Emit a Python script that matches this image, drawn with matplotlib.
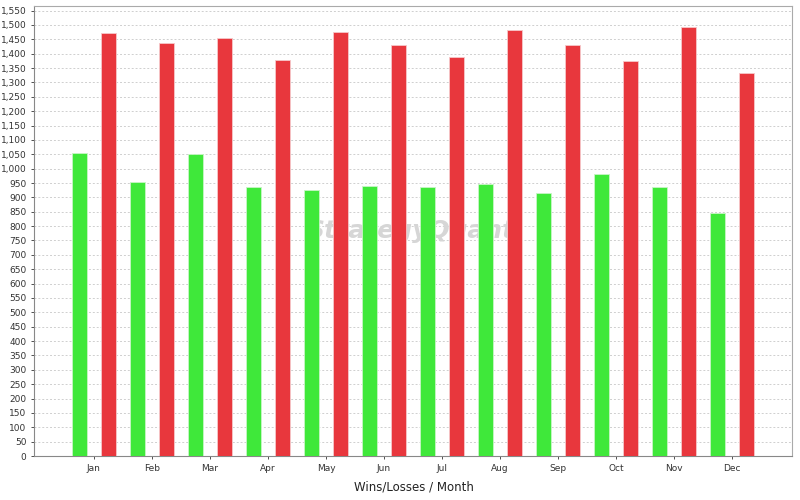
import matplotlib
matplotlib.use("Agg")
import matplotlib.pyplot as plt
import numpy as np
from matplotlib.ticker import FuncFormatter, MultipleLocator

months = ["Jan", "Feb", "Mar", "Apr", "May", "Jun", "Jul", "Aug", "Sep", "Oct", "Nov", "Dec"]
wins = [1055, 954, 1051, 936, 926, 940, 936, 947, 915, 982, 936, 846]
losses = [1472, 1438, 1455, 1378, 1476, 1431, 1389, 1483, 1431, 1375, 1493, 1333]

fig = plt.figure(figsize=(8, 5), dpi=100)
ax = fig.add_axes([0.0425, 0.088, 0.9475, 0.9])

x = np.arange(len(months))
w = 0.26
ax.bar(x - 0.25, wins, width=w, color="#3fe83a", edgecolor="#c8f5c6", linewidth=0.6, zorder=3)
ax.bar(x + 0.25, losses, width=w, color="#e8373d", edgecolor="#f6c8ca", linewidth=0.6, zorder=3)

ax.set_xlim(-1.03, len(months) - 1 + 1.03)
ax.set_ylim(0, 1566)
ax.yaxis.set_major_locator(MultipleLocator(50))
ax.yaxis.set_major_formatter(FuncFormatter(lambda v, p: f"{int(v):,}"))
ax.set_xticks(x)
ax.set_xticklabels(months)
ax.tick_params(axis="both", labelsize=6.5, colors="#333333", length=2, width=0.6)
ax.tick_params(axis="x", pad=4)
ax.grid(axis="y", color="#cfcfcf", linestyle=(0, (2, 2)), linewidth=0.7, zorder=0)

for s in ax.spines.values():
    s.set_color("#aaaaaa")
    s.set_linewidth(0.8)
ax.spines["left"].set_color("#888888")
ax.spines["bottom"].set_color("#888888")

# faint watermark behind the bars
ax.text(0.497, 0.5, "StrategyQuant", transform=ax.transAxes, ha="center", va="center",
        fontsize=18, fontweight="bold", style="italic", color="#d6d6d6", zorder=2)

fig.text(0.518, 0.026, "Wins/Losses / Month", ha="center", va="center", fontsize=8.5, color="#222222")

fig.savefig("out.png", dpi=100)
